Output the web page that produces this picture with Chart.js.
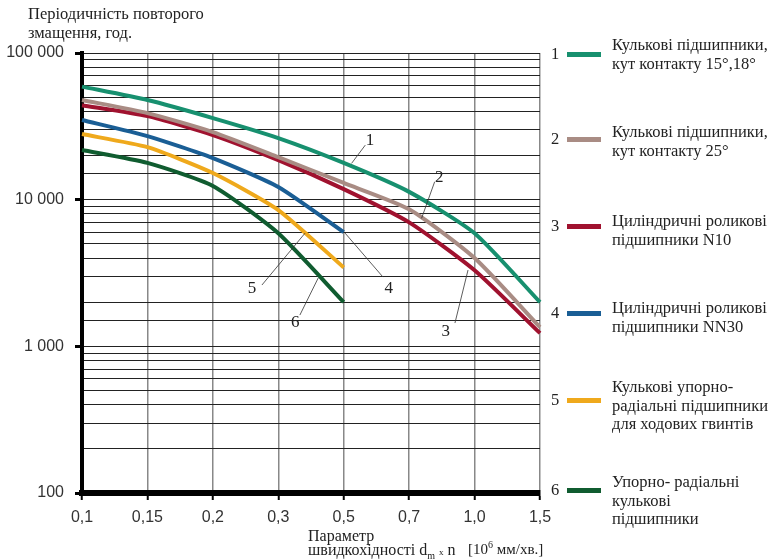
<!DOCTYPE html>
<html lang="uk">
  <head>
    <meta charset="UTF-8" />
    <title>Періодичність повторного змащення</title>
    <script src="https://cdn.jsdelivr.net/npm/chart.js"></script>
    <style>
      body {
        margin: 0;
        background: #fff;
      }
      .wrap {
        position: relative;
        width: 768px;
        height: 560px;
        font-family: "Liberation Serif", "Times New Roman", serif;
        color: #222;
      }
      canvas {
        position: absolute;
        left: 0;
        top: 0;
      }
      .ytitle {
        position: absolute;
        left: 28px;
        top: 4px;
        font-size: 16.5px;
        line-height: 19px;
      }
      .xtitle {
        position: absolute;
        left: 308px;
        top: 529px;
        font-size: 16px;
        line-height: 14px;
      }
      .xunit {
        position: absolute;
        left: 468px;
        top: 539px;
        font-size: 15px;
      }
      .leg-num {
        position: absolute;
        left: 548px;
        width: 14px;
        font-size: 16.5px;
        line-height: 18px;
        text-align: center;
      }
      .leg-sw {
        position: absolute;
        left: 567px;
        width: 34px;
        height: 5px;
      }
      .leg-text {
        position: absolute;
        left: 612px;
        font-size: 16.5px;
        line-height: 18.5px;
        white-space: nowrap;
      }
      sub, sup {
        font-size: 10px;
      }
    </style>
  </head>
  <body>
    <div class="wrap" id="wrap">
      <canvas id="chart" width="768" height="560"></canvas>
      <div class="ytitle">Періодичність повторого<br />змащення, год.</div>
      <div class="xtitle">Параметр<br />швидкохідності d<sub>m</sub> <small style="font-size:9px">x</small> n</div>
      <div class="xunit">[10<sup>6</sup> мм/хв.]</div>
    </div>

    <script>
      // categories on the x axis (speed parameter)
      const categories = ["0,1", "0,15", "0,2", "0,3", "0,5", "0,7", "1,0", "1,5"];

      // relubrication interval, hours
      const ballBearings1518 = [59000, 47800, 36000, 26300, 17800, 11300, 5900, 2000];
      const ballBearings25 = [47800, 38900, 28900, 19500, 13000, 8600, 4000, 1350];
      const cylRollerN10 = [44000, 37100, 27600, 18600, 11800, 7000, 3300, 1230];
      const cylRollerNN30 = [34900, 27100, 19200, 12200, 6000];
      const angularScrew = [28000, 22800, 15200, 8500, 3450];
      const angularBall = [21800, 17800, 12400, 5900, 2000];

      const seriesNames = [
        ["Кулькові підшипники,", "кут контакту 15°,18°"],
        ["Кулькові підшипники,", "кут контакту 25°"],
        ["Циліндричні роликові", "підшипники N10"],
        ["Циліндричні роликові", "підшипники NN30"],
        ["Кулькові упорно-", "радіальні підшипники", "для ходових гвинтів"],
        ["Упорно- радіальні", "кульковi", "підшипники"],
      ];
      const seriesColors = ["#17906f", "#a98c84", "#a0122f", "#1a5e95", "#efa91c", "#105c30"];
      const seriesData = [ballBearings1518, ballBearings25, cylRollerN10, cylRollerNN30, angularScrew, angularBall];

      // curve number callouts: leader line from (x1,y1) to (x2,y2), label at (tx,ty) in data units
      const calloutLabels = ["1", "2", "3", "4", "5", "6"];
      const calloutX = [[4.12, 4.33, 4.4], [5.19, 5.39, 5.46], [5.9, 5.7, 5.56], [4.02, 4.6, 4.69], [3.41, 2.75, 2.6], [3.61, 3.33, 3.26]];
      const calloutY = [[17680, 23550, 25500], [7460, 13250, 14260], [3313, 1442, 1252], [5920, 2967, 2497], [5920, 2618, 2497], [2923, 1634, 1464]];

      // legend layout (text block top, swatch centre)
      const legendTextTop = [36, 123, 212, 299, 378, 473];
      const legendSwatchY = [54, 139, 226, 313, 400, 490];

      const wrap = document.getElementById("wrap");
      seriesNames.forEach((lines, i) => {
        const num = document.createElement("div");
        num.className = "leg-num";
        num.style.top = legendSwatchY[i] - 9 + "px";
        num.textContent = i + 1;
        wrap.appendChild(num);
        const sw = document.createElement("div");
        sw.className = "leg-sw";
        sw.style.top = legendSwatchY[i] - 2.5 + "px";
        sw.style.background = seriesColors[i];
        wrap.appendChild(sw);
        const txt = document.createElement("div");
        txt.className = "leg-text";
        txt.style.top = legendTextTop[i] + "px";
        txt.innerHTML = lines.join("<br>");
        wrap.appendChild(txt);
      });

      const isPow10 = (v) => Math.abs(Math.log10(v) - Math.round(Math.log10(v))) < 1e-9;

      const callouts = {
        id: "callouts",
        afterDatasetsDraw(chart) {
          const { ctx, scales } = chart;
          ctx.save();
          ctx.strokeStyle = "#333";
          ctx.lineWidth = 0.8;
          ctx.fillStyle = "#222";
          ctx.font = '17px "Liberation Serif", serif';
          ctx.textAlign = "center";
          ctx.textBaseline = "middle";
          calloutLabels.forEach((lab, i) => {
            const xs = calloutX[i].map((v) => scales.x.getPixelForValue(v));
            const ys = calloutY[i].map((v) => scales.y.getPixelForValue(v));
            ctx.beginPath();
            ctx.moveTo(xs[0], ys[0]);
            ctx.lineTo(xs[1], ys[1]);
            ctx.stroke();
            ctx.fillText(lab, xs[2], ys[2]);
          });
          ctx.restore();
        },
      };

      new Chart(document.getElementById("chart"), {
        type: "line",
        data: {
          labels: categories,
          datasets: seriesData.map((d, i) => ({
            label: seriesNames[i].join(" "),
            data: d,
            borderColor: seriesColors[i],
            backgroundColor: seriesColors[i],
            borderWidth: 4,
            pointRadius: 0,
            tension: 0.2,
            fill: false,
          })),
        },
        options: {
          responsive: false,
          animation: false,
          layout: { padding: { top: 53, right: 228, left: 0, bottom: 0 } },
          plugins: {
            legend: { display: false },
            tooltip: { enabled: false },
          },
          scales: {
            x: {
              offset: false,
              afterFit: (s) => {
                s.height = 67;
              },
              grid: {
                color: "#888",
                lineWidth: 1.5,
                tickColor: "#000",
                tickLength: 7,
                tickWidth: 2,
              },
              border: { color: "#000", width: 6 },
              ticks: {
                color: "#333",
                padding: 8,
                maxRotation: 0,
                font: { family: '"Liberation Sans", Arial, sans-serif', size: 16 },
              },
            },
            y: {
              type: "logarithmic",
              min: 100,
              max: 100000,
              afterFit: (s) => {
                s.width = 82;
              },
              grid: {
                color: "#222",
                lineWidth: 1,
                tickLength: 7,
                tickWidth: 3,
                tickColor: (c) => (c.tick && isPow10(c.tick.value) ? "#000" : "rgba(0,0,0,0)"),
              },
              border: { color: "#000", width: 4 },
              ticks: {
                autoSkip: false,
                color: "#333",
                padding: 11,
                font: { family: '"Liberation Sans", Arial, sans-serif', size: 16 },
                callback: (v) => (isPow10(v) ? String(Math.round(v)).replace(/\B(?=(\d{3})+(?!\d))/g, " ") : ""),
              },
            },
          },
        },
        plugins: [callouts],
      });
    </script>
  </body>
</html>
